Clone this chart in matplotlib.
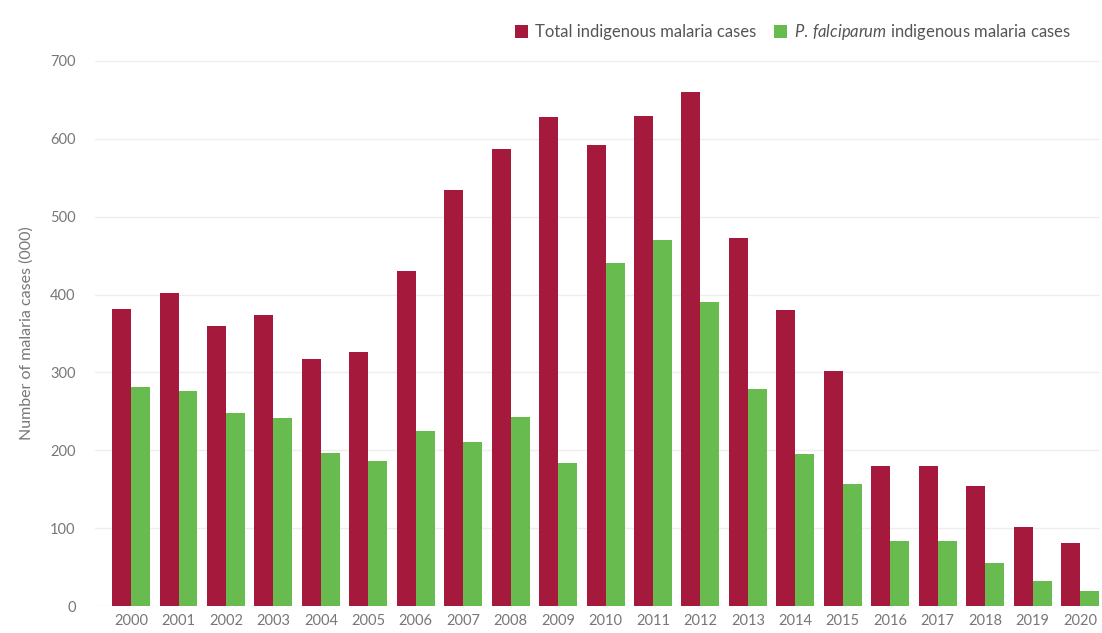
import matplotlib
matplotlib.use("Agg")
import matplotlib.pyplot as plt
import numpy as np

years = [str(y) for y in range(2000, 2021)]
total_cases = [381, 402, 360, 374, 317, 326, 430, 534, 587, 628, 592, 629, 660, 473, 380, 302, 180, 180, 154, 101, 81]
pf_cases = [281, 276, 248, 242, 196, 186, 225, 211, 243, 184, 440, 470, 390, 279, 195, 157, 84, 84, 55, 32, 19]
yticks = [0, 100, 200, 300, 400, 500, 600, 700]

red = "#a5193d"
green = "#67bb4f"
txt = "#777777"

plt.rcParams['font.family'] = ['Lato', 'DejaVu Sans']
plt.rcParams['mathtext.fontset'] = 'custom'
plt.rcParams['mathtext.it'] = 'Lato:italic'
plt.rcParams['mathtext.rm'] = 'Lato'

fig = plt.figure(figsize=(11.02, 6.33), dpi=100)
ax = fig.add_axes([95 / 1102, (633 - 606) / 633, (1100 - 95) / 1102, (606 - 61) / 633])

x = np.arange(len(years))
w = 0.4
ax.bar(x - w / 2, total_cases, width=w, color=red, label="Total indigenous malaria cases", zorder=2)
ax.bar(x + w / 2, pf_cases, width=w, color=green, label="$\\it{P.\\,falciparum}$ indigenous malaria cases", zorder=2)

ax.set_xlim(-0.76, 20.42)
ax.set_ylim(0, 700)
ax.set_yticks(yticks)
ax.set_xticks(x)
ax.set_xticklabels(years)
ax.tick_params(axis='both', length=0, labelsize=10.5, labelcolor=txt)
ax.tick_params(axis='y', pad=14)
ax.tick_params(axis='x', pad=6)
ax.grid(axis='y', color="#eeeeee", linewidth=1, zorder=0)
for s in ax.spines.values():
    s.set_visible(False)

ax.set_ylabel("Number of malaria cases (000)", fontsize=11.5, color=txt, labelpad=12)

leg = fig.legend(loc='upper right', bbox_to_anchor=(1086 / 1102, 1 - 7 / 633), ncol=2, frameon=False,
                 fontsize=12, handlelength=0.8, handleheight=0.8, handletextpad=0.4, columnspacing=1.1)
for t in leg.get_texts():
    t.set_color("#555555")

fig.savefig("out.png", dpi=100)
